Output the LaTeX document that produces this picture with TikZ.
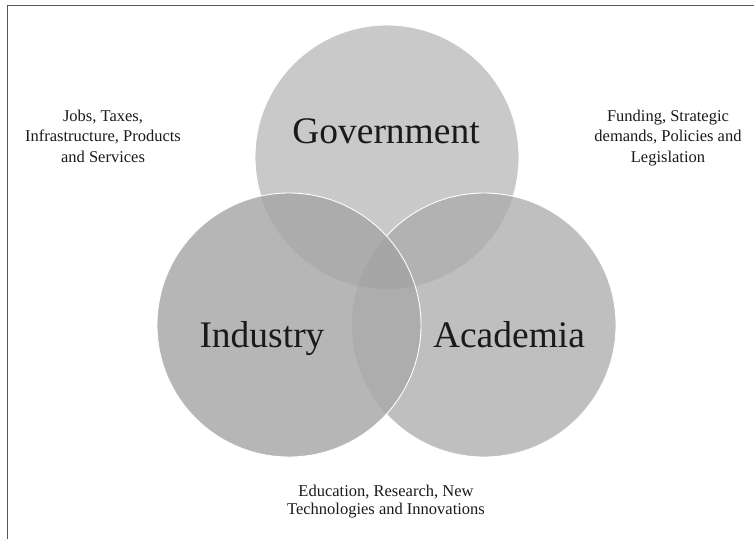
\documentclass[tikz,border=0pt]{standalone}
\usepackage{fontspec}
\setmainfont{Liberation Serif}
\definecolor{cg}{HTML}{C9C9C9}
\definecolor{ca}{HTML}{BFBFBF}
\definecolor{ci}{HTML}{B6B6B6}
\definecolor{cgi}{HTML}{ACACAC}
\definecolor{cga}{HTML}{B2B2B2}
\definecolor{cia}{HTML}{ADADAD}
\definecolor{cgia}{HTML}{A6A6A6}
\definecolor{frame}{HTML}{555555}
\definecolor{txt}{HTML}{1A1A1A}
\begin{document}
\begin{tikzpicture}[x=1pt,y=-1pt,
  venn/.style={circle, minimum size=264pt, inner sep=0pt, draw=white, line width=0.9pt},
  big/.style={font=\fontsize{37.5}{45}\selectfont, text=txt, inner sep=0pt, anchor=base},
  small/.style={font=\fontsize{16.5}{20.5}\selectfont, align=center, text=txt, inner sep=0pt, anchor=base},
  framestyle/.style={draw=frame, line width=1pt}]
\useasboundingbox (0,0) rectangle (754,539);
\fill[white] (0,0) rectangle (754,539);
\draw[framestyle] (7.5,539) -- (7.5,5.5) -- (754,5.5);
\def\R{132}
\coordinate (g) at (387,157);
\coordinate (i) at (289,325);
\coordinate (a) at (484,325);
% Government
\fill[cg] (g) circle[radius=\R];
\node[venn] (G) at (g) {};
% Academia
\fill[ca] (a) circle[radius=\R];
\begin{scope}
  \clip (a) circle[radius=\R];
  \fill[cga] (g) circle[radius=\R];
\end{scope}
\node[venn] (A) at (a) {};
% Industry
\fill[ci] (i) circle[radius=\R];
\begin{scope}
  \clip (i) circle[radius=\R];
  \fill[cgi] (g) circle[radius=\R];
  \fill[cia] (a) circle[radius=\R];
  \clip (g) circle[radius=\R];
  \fill[cgia] (a) circle[radius=\R];
\end{scope}
\node[venn] (I) at (i) {};
% labels
\node[big] (gl) at (386,143) {Government};
\node[big] (il) at (262,347) {Industry};
\node[big] (al) at (509,347) {Academia};
\node[small, anchor=north] (lt) at (103,109.5) {Jobs, Taxes,\\Infrastructure, Products\\and Services};
\node[small, anchor=north] (rt) at (668,109.5) {Funding, Strategic\\demands, Policies and\\Legislation};
\node[small, anchor=north, font=\fontsize{16.5}{18.8}\selectfont] (bt) at (386,484.5) {Education, Research, New\\Technologies and Innovations};
\end{tikzpicture}
\end{document}
